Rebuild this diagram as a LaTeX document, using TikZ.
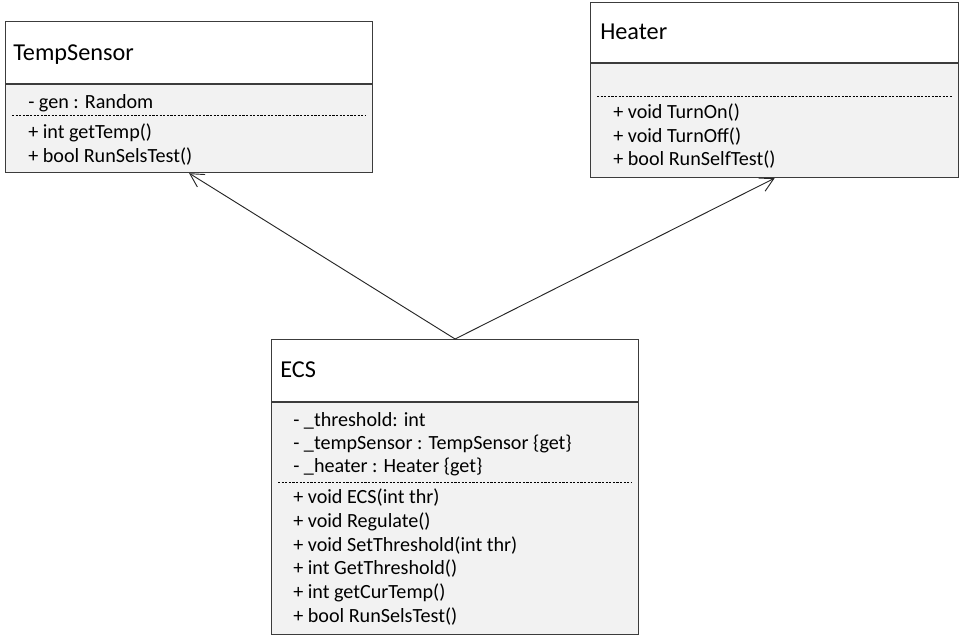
\documentclass[tikz,border=0pt]{standalone}
\usepackage{fontspec}
\setmainfont{Carlito}
\usetikzlibrary{arrows.meta}
\definecolor{bodyfill}{HTML}{F2F2F2}
\definecolor{edge}{HTML}{3C3C3C}
\tikzset{
  x=0.75pt, y=-0.75pt,
  classbox/.style={draw=edge, line width=0.9pt, anchor=north west, inner sep=0pt},
  divider/.style={draw=edge, line width=0.9pt},
  sep/.style={draw=black, line width=0.7pt, dash pattern=on 1.6pt off 1.1pt},
  title/.style={anchor=base west, inner sep=0pt, font=\fontsize{18.2}{22}\selectfont},
  member/.style={anchor=base west, inner sep=0pt, font=\fontsize{15.1}{18}\selectfont},
  assoc/.style={draw=black!85, line width=0.7pt, -{Straight Barb[length=10pt, width=11pt, line width=0.7pt]}}
}
\begin{document}
\begin{tikzpicture}
\useasboundingbox (0,0) rectangle (960,639);

% ---- TempSensor
\fill[bodyfill] (5,84) rectangle (372,172);
\node[classbox, minimum width=367*0.75pt, minimum height=151*0.75pt] (ts) at (5,21) {};
\draw[divider] (5,84) -- (372,84);
\draw[sep] (12,115) -- (366,115);
\node[title] (ts-name) at (13,60.5) {TempSensor};
\node[member] (ts-a1) at (28,108) {- gen : Random};
\node[member] (ts-m1) at (28,138) {+ int getTemp()};
\node[member] (ts-m2) at (28,162) {+ bool RunSelsTest()};

% ---- Heater
\fill[bodyfill] (590,63) rectangle (958,177);
\node[classbox, minimum width=368*0.75pt, minimum height=175*0.75pt] (ht) at (590,2) {};
\draw[divider] (590,63) -- (958,63);
\draw[sep] (597,96) -- (952,96);
\node[title] (ht-name) at (600,39) {Heater};
\node[member] (ht-m1) at (613,118) {+ void TurnOn()};
\node[member] (ht-m2) at (613,142) {+ void TurnOff()};
\node[member] (ht-m3) at (613,165) {+ bool RunSelfTest()};

% ---- ECS
\fill[bodyfill] (271,402) rectangle (638,634);
\node[classbox, minimum width=367*0.75pt, minimum height=295*0.75pt] (ecs) at (271,339) {};
\draw[divider] (271,402) -- (638,402);
\draw[sep] (278,482) -- (632,482);
\node[title] (ecs-name) at (280,377) {ECS};
\node[member] (ecs-a1) at (293,426) {- \_threshold: int};
\node[member] (ecs-a2) at (293,449) {- \_tempSensor : TempSensor \{get\}};
\node[member] (ecs-a3) at (293,472) {- \_heater : Heater \{get\}};
\node[member] (ecs-m1) at (293,503) {+ void ECS(int thr)};
\node[member] (ecs-m2) at (293,527) {+ void Regulate()};
\node[member] (ecs-m3) at (293,551) {+ void SetThreshold(int thr)};
\node[member] (ecs-m4) at (293,574) {+ int GetThreshold()};
\node[member] (ecs-m5) at (293,598) {+ int getCurTemp()};
\node[member] (ecs-m6) at (293,622) {+ bool RunSelsTest()};

% ---- associations
\draw[assoc] (ecs.north) -- (ts.south);
\draw[assoc] (ecs.north) -- (ht.south);
\end{tikzpicture}
\end{document}
